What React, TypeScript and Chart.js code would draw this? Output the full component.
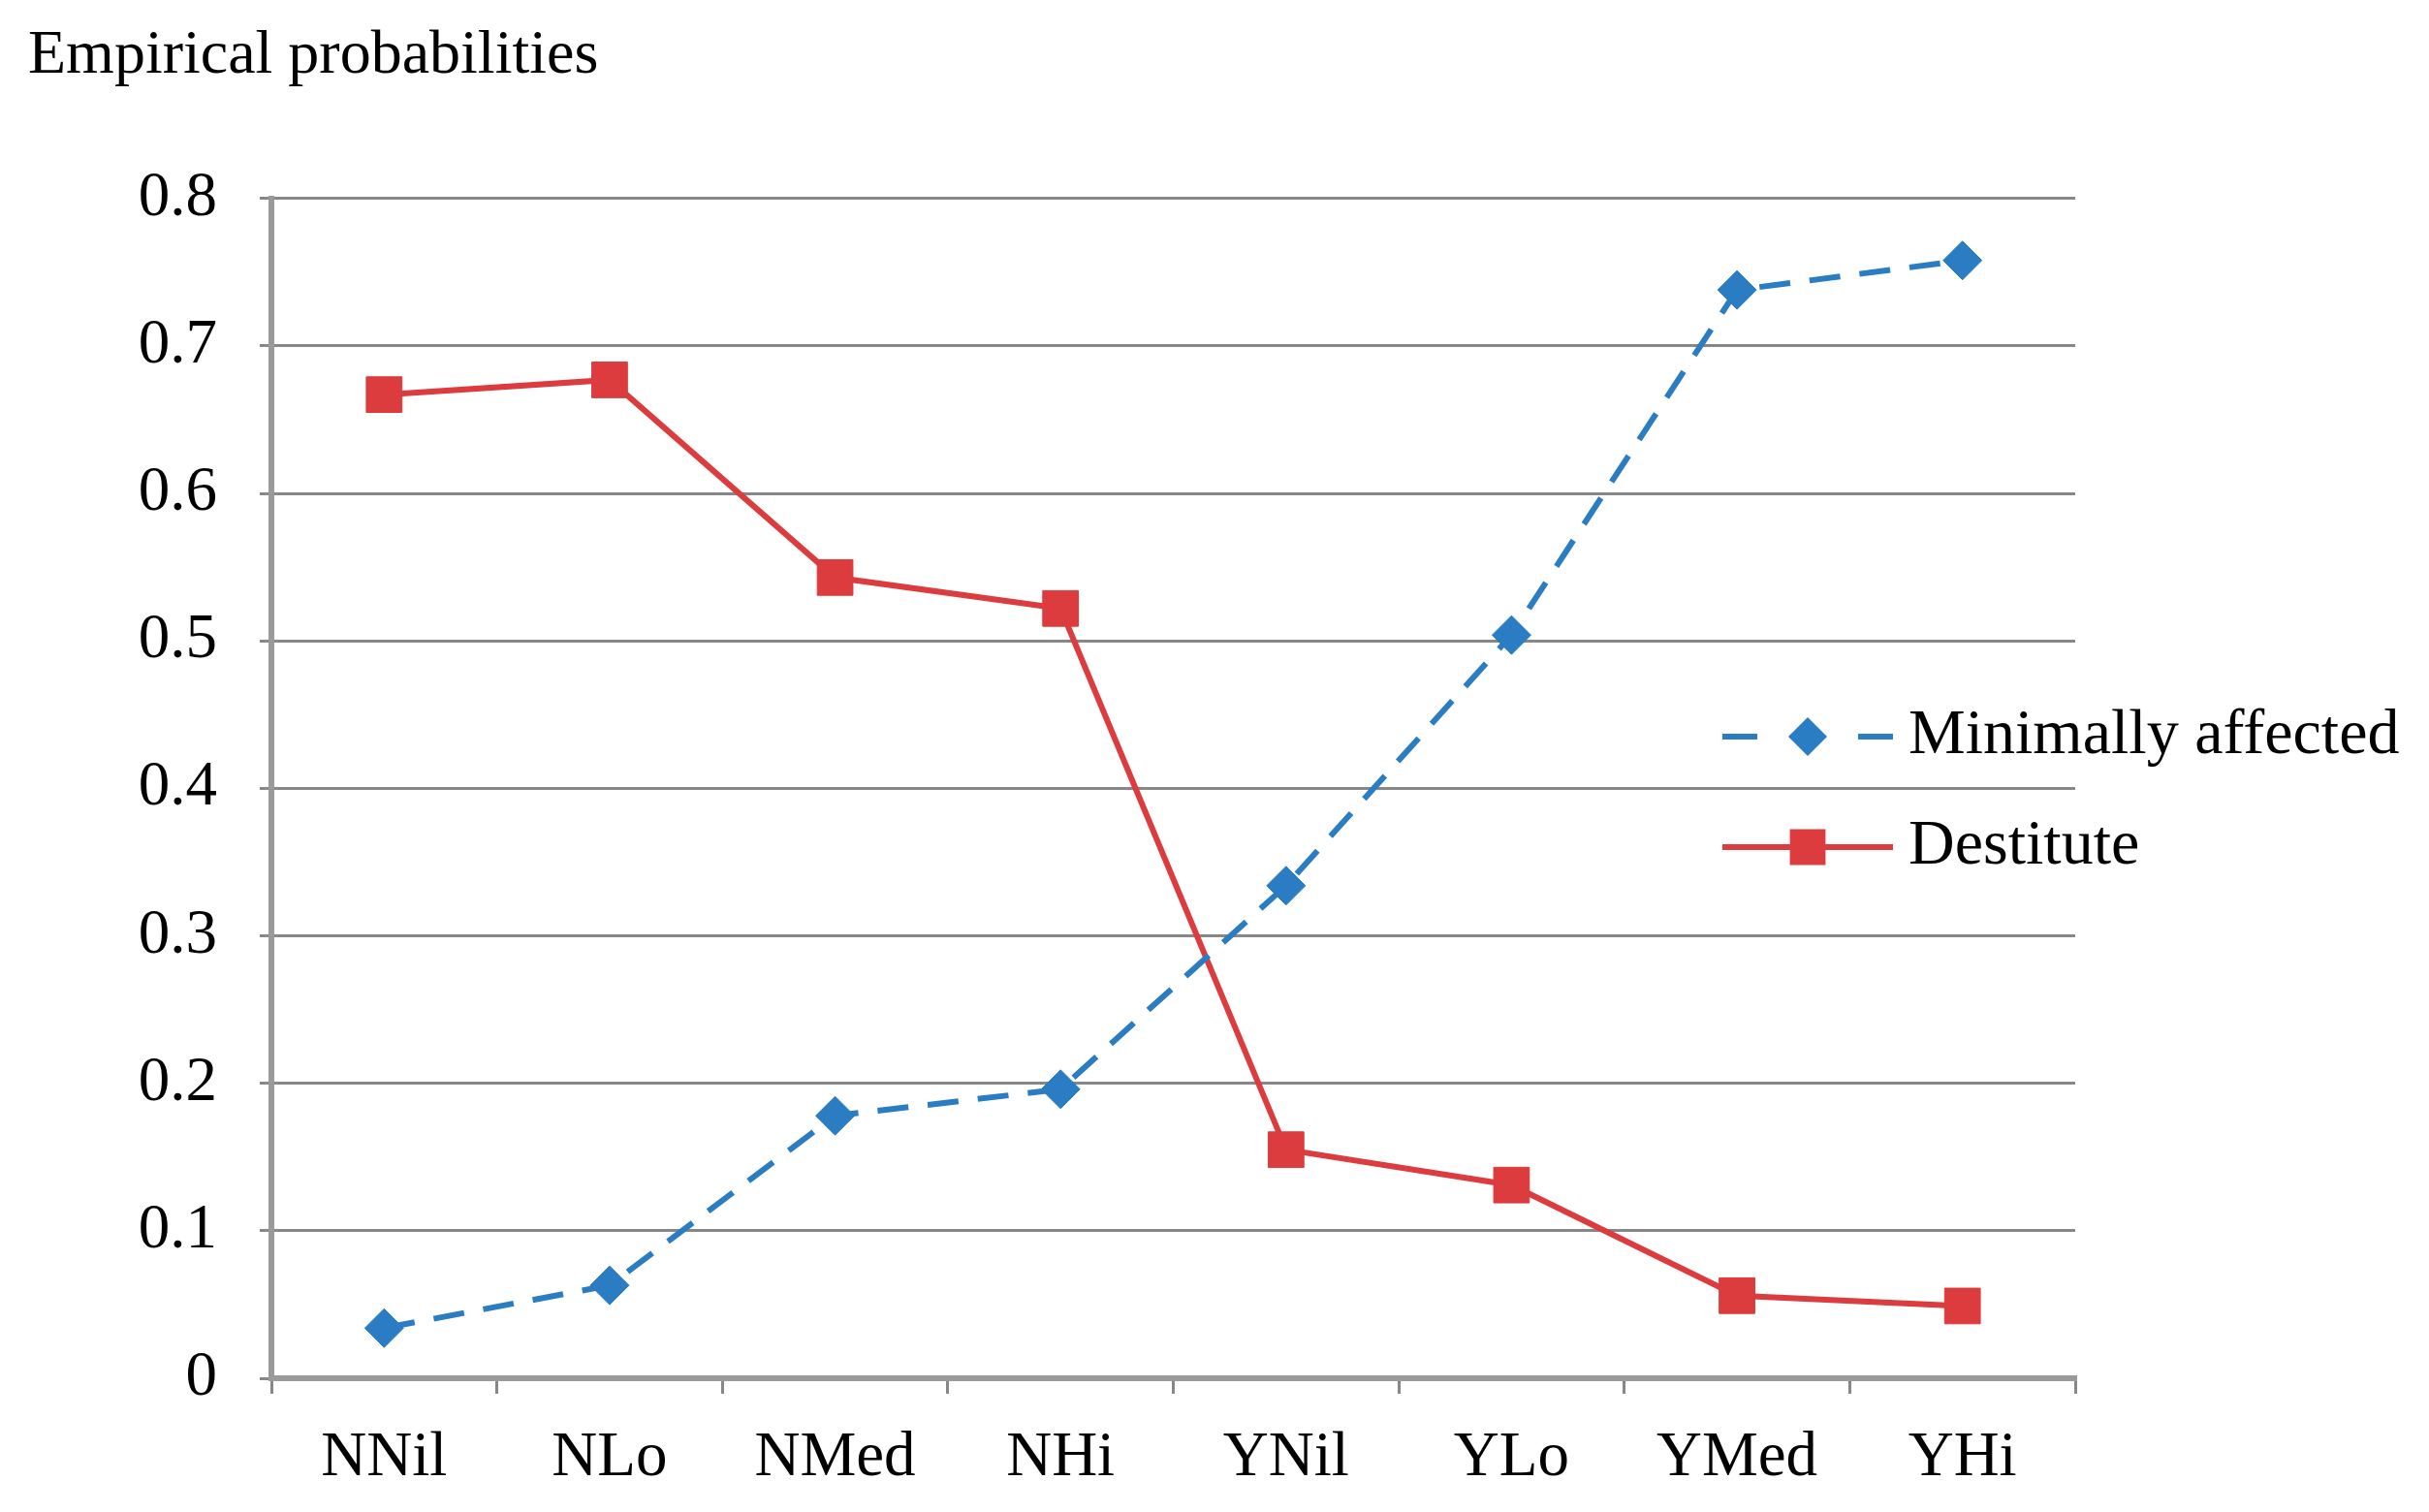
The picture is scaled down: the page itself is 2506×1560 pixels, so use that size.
import React, { useEffect, useRef } from 'react';
import { Chart, registerables } from 'chart.js';

Chart.register(...registerables);

const categories = ['NNil', 'NLo', 'NMed', 'NHi', 'YNil', 'YLo', 'YMed', 'YHi'];
const minimallyAffected = [0.034, 0.063, 0.178, 0.196, 0.334, 0.504, 0.738, 0.758];
const destitute = [0.667, 0.677, 0.543, 0.522, 0.155, 0.131, 0.056, 0.049];
const seriesNames = ['Minimally affected', 'Destitute'];
const titleText = 'Empirical probabilities';
const yMin = 0;
const yMax = 0.8;
const yStep = 0.1;

const BLUE = '#2a7cc3';
const RED = '#dc3c3e';
const GRID = '#878787';
const FONT = '"Liberation Serif", "Times New Roman", serif';

const legendPlugin = {
  id: 'excelLegend',
  afterDraw(chart: any) {
    const ctx = chart.ctx;
    const area = chart.chartArea;
    const lineStart = area.right - 364;
    const lineEnd = area.right - 188;
    const textX = area.right - 172;
    const firstRow = 760;
    const rowGap = 114;
    ctx.save();
    chart.data.datasets.forEach((ds: any, i: number) => {
      const y = firstRow + i * rowGap;
      const mid = (lineStart + lineEnd) / 2;
      ctx.strokeStyle = ds.borderColor;
      ctx.lineWidth = ds.borderWidth;
      ctx.setLineDash([]);
      ctx.beginPath();
      if (ds.borderDash && ds.borderDash.length) {
        ctx.moveTo(lineStart, y);
        ctx.lineTo(lineStart + 36, y);
        ctx.moveTo(lineEnd - 36, y);
        ctx.lineTo(lineEnd, y);
      } else {
        ctx.moveTo(lineStart, y);
        ctx.lineTo(lineEnd, y);
      }
      ctx.stroke();
      ctx.fillStyle = ds.pointBackgroundColor;
      ctx.beginPath();
      if (ds.pointStyle === 'rectRot') {
        const r = ds.pointRadius;
        ctx.moveTo(mid, y - r);
        ctx.lineTo(mid + r, y);
        ctx.lineTo(mid, y + r);
        ctx.lineTo(mid - r, y);
        ctx.closePath();
      } else {
        const s = ds.pointRadius * Math.SQRT1_2;
        ctx.rect(mid - s, y - s, 2 * s, 2 * s);
      }
      ctx.fill();
      ctx.fillStyle = '#000';
      ctx.font = `66px ${FONT}`;
      ctx.textAlign = 'left';
      ctx.textBaseline = 'middle';
      ctx.fillText(ds.label, textX, y);
    });
    ctx.restore();
  },
};

export default function App() {
  const ref = useRef<HTMLCanvasElement | null>(null);

  useEffect(() => {
    if (!ref.current) return;
    const chart = new Chart(ref.current, {
      type: 'line',
      data: {
        labels: categories,
        datasets: [
          {
            label: seriesNames[0],
            data: minimallyAffected,
            borderColor: BLUE,
            backgroundColor: BLUE,
            pointBackgroundColor: BLUE,
            pointBorderColor: BLUE,
            borderWidth: 6,
            borderDash: [32, 20],
            pointStyle: 'rectRot',
            pointRadius: 20,
            pointBorderWidth: 1,
            tension: 0,
          },
          {
            label: seriesNames[1],
            data: destitute,
            borderColor: RED,
            backgroundColor: RED,
            pointBackgroundColor: RED,
            pointBorderColor: RED,
            borderWidth: 6,
            pointStyle: 'rect',
            pointRadius: 26,
            pointBorderWidth: 1,
            tension: 0,
          },
        ],
      },
      options: {
        animation: false,
        responsive: false,
        devicePixelRatio: 1,
        layout: { padding: { left: 29, right: 365, top: 0, bottom: 0 } },
        plugins: {
          legend: { display: false },
          tooltip: { enabled: false },
          title: {
            display: true,
            text: titleText,
            align: 'start',
            color: '#000',
            font: { family: FONT, size: 64, weight: 'normal', lineHeight: 1.2 },
            padding: { top: 20, bottom: 108 },
          },
        },
        scales: {
          x: {
            type: 'category',
            offset: true,
            grid: {
              offset: true,
              drawOnChartArea: false,
              drawTicks: true,
              tickLength: 16,
              color: GRID,
              lineWidth: 3,
            },
            border: { display: true, color: '#9a9a9a', width: 6 },
            ticks: {
              color: '#000',
              font: { family: FONT, size: 65 },
              padding: 28,
              maxRotation: 0,
              autoSkip: false,
            },
            afterFit: (scale: any) => {
              scale.height = 138;
            },
          },
          y: {
            min: yMin,
            max: yMax,
            grid: {
              color: GRID,
              lineWidth: 3,
              tickLength: 12,
              drawTicks: true,
            },
            border: { display: true, color: '#9a9a9a', width: 6 },
            ticks: {
              stepSize: yStep,
              color: '#000',
              font: { family: FONT, size: 65 },
              padding: 44,
            },
            afterFit: (scale: any) => {
              scale.width = 251;
            },
          },
        },
      },
      plugins: [legendPlugin],
    });
    return () => chart.destroy();
  }, []);

  return (
    <div style={{ position: 'absolute', left: 0, top: 0, width: 2506, height: 1560, background: '#fff' }}>
      <canvas ref={ref} width={2506} height={1560} style={{ width: 2506, height: 1560, display: 'block' }} />
    </div>
  );
}
